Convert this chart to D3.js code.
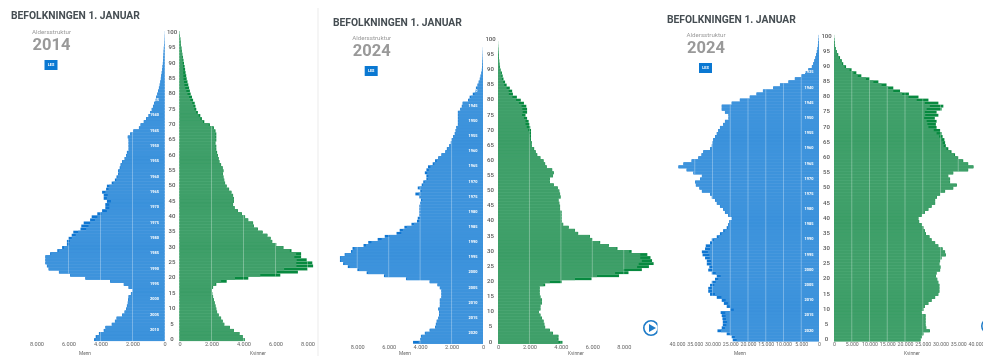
<!DOCTYPE html>
<html><head><meta charset="utf-8">
<script src="https://cdn.jsdelivr.net/npm/d3@7"></script>
<style>html,body{margin:0;background:#fff;overflow:hidden}svg{display:block;filter:blur(.4px);font-family:Roboto,sans-serif}</style>
</head><body><svg id="c" width="983" height="356"></svg>
<script>
const titleText = "BEFOLKNINGEN 1. JANUAR", subtitle = "Aldersstruktur", button = "LES", maleLabel = "Menn", femaleLabel = "Kvinner";
const ageTicks = [0,5,10,15,20,25,30,35,40,45,50,55,60,65,70,75,80,85,90,95,100];
const ticksA = [0,2000,4000,6000,8000];
const ticksB = [0,5000,10000,15000,20000,25000,30000,35000,40000];
const yearsA = [2010,2005,2000,1995,1990,1985,1980,1975,1970,1965,1960,1955,1950,1945,1940,1935];
const yearsB = [2020,2015,2010,2005,2000,1995,1990,1985,1980,1975,1970,1965,1960,1955,1950,1945,1940];
const yearsC = [2020,2015,2010,2005,2000,1995,1990,1985,1980,1975,1970,1965,1960,1955,1950,1945,1940,1935];

const male1 = [4400,4300,4100,3800,3700,3300,3100,3000,2650,2500,2400,2350,2300,2280,2250,2100,2000,2250,2550,3400,4950,5900,6600,7250,7350,7450,7450,7450,7150,6700,6400,6100,6100,6000,5800,5700,5250,5200,5050,4650,4550,4200,3900,3700,3700,3600,3800,3800,3900,3650,3600,3300,3100,3000,2900,2900,2800,2750,2650,2500,2400,2350,2250,2250,2250,2250,2300,2150,1950,1600,1500,1300,1150,1000,900,800,720,650,580,520,450,400,350,300,260,230,200,170,140,120,100,80,70,60,50,40,30,20,15,10,5];
const maleX1 = [80,60,50,40,40,30,20,20,20,20,20,20,20,20,20,20,20,20,20,20,20,20,20,30,30,30,30,30,60,80,120,150,180,200,250,300,350,450,400,300,350,250,300,250,250,250,200,250,200,150,150,100,80,60,60,50,40,40,40,30,30,30,30,20,20,20,20,20,20,20,20,20,20,10,10,10,10,10,10,10,10,10,10,10,10,10,0,0,0,0,0,0,0,0,0,0,0,0,0,0,0];
const female1 = [4080,3950,3750,3400,3150,2800,2700,2600,2450,2350,2300,2250,2200,2150,2100,2050,2030,2100,2300,2950,4300,6300,7400,8000,8350,8300,7950,7600,7600,7000,6500,6050,5800,5700,5500,5200,4900,4650,4600,4300,4100,3900,3650,3450,3350,3400,3400,3350,3250,3100,2950,2850,2800,2750,2720,2750,2700,2600,2500,2450,2400,2350,2300,2300,2250,2300,2300,2300,2250,2150,1900,1550,1400,1300,1150,1050,1000,950,850,780,700,650,600,550,500,450,420,380,350,320,280,250,220,180,150,120,90,70,50,30,15];
const femaleX1 = [10,10,10,10,10,10,10,10,10,10,10,10,10,10,10,10,10,30,60,350,830,1250,1310,1460,1040,1000,625,420,310,100,40,30,30,30,30,30,20,20,20,20,20,20,20,20,20,20,20,20,20,20,20,20,20,20,20,20,20,20,20,20,30,40,40,40,40,40,50,50,50,50,70,80,90,100,110,120,130,150,170,180,200,220,240,240,220,200,180,150,120,100,80,60,40,20,10,5,0,0,0,0,0];

const male2 = [4450,4000,3950,3700,3400,3050,3000,2950,2850,2800,2800,2850,2750,2750,2750,2650,2650,2650,2750,2900,3400,4900,6300,7400,8000,8600,8900,9100,9100,8800,8400,8300,7600,7300,6700,6250,5500,5300,5000,4550,4200,4150,4050,4050,4050,4050,4000,3950,4050,4300,4000,4150,3900,3800,3600,3600,3700,3600,3500,3200,3050,2850,2650,2400,2300,2150,2050,2000,1900,1800,1750,1700,1600,1600,1600,1600,1600,1450,1350,1300,950,850,650,500,450,350,270,200,150,100,70,50,40,30,20,15,10,5,0,0,0];
const maleX2 = [350,60,40,40,40,30,30,30,30,30,20,20,20,20,20,20,20,20,20,20,30,40,60,80,100,100,80,50,40,40,80,120,150,200,250,300,300,200,150,150,150,150,80,80,60,60,60,80,100,200,100,100,80,80,80,120,150,150,150,100,100,50,40,30,30,30,30,30,30,30,30,30,30,30,30,30,30,30,30,30,60,80,100,60,40,20,0,0,0,0,0,0,0,0,0,0,0,0,0,0,0];
const female2 = [4100,3850,3850,3500,3300,3000,2950,2900,2800,2700,2600,2700,2700,2800,2800,2700,2650,2650,2650,3000,4050,5950,7700,8300,9150,9600,9900,9800,9700,9500,8500,7600,7050,6500,6000,5850,5100,4900,4500,4150,4050,4050,4050,4050,3950,3950,3900,3850,4000,3950,3900,3800,3550,3300,3300,3500,3550,3450,3100,3000,2900,2700,2500,2400,2300,2150,2150,2100,2100,2100,2100,2050,2000,1950,1850,1750,1850,1850,1800,1650,1450,1200,950,900,750,550,450,350,300,250,170,130,100,80,60,50,30,20,10,5,0];
const femaleX2 = [250,60,40,30,20,20,20,20,20,10,10,10,10,10,10,10,10,10,10,100,750,1050,1400,850,1170,750,950,650,650,450,150,60,50,40,40,30,30,20,20,20,20,20,20,20,10,10,10,10,10,10,10,10,10,10,10,10,10,20,20,20,20,20,30,30,30,40,50,50,80,120,180,220,250,200,200,220,280,300,300,320,300,280,260,220,200,150,120,100,80,60,50,30,20,10,10,0,0,0,0,0,0];

const male3 = [24300,24600,26000,28600,27400,27100,27100,27200,27400,27700,25000,26000,26800,27400,28800,30700,31200,31200,30700,30200,29300,28800,30200,31200,30900,31600,31600,32100,32800,33000,32100,31900,30700,30200,28800,27900,27000,26000,25600,25300,24600,25600,26500,27000,27900,28800,29300,30200,30700,33000,33700,34700,34900,33500,33000,35400,37300,39600,38200,35900,34000,33100,32600,30700,30200,30000,29800,29300,28800,28400,27900,27000,26500,25500,25500,26500,27400,27400,24600,22300,19500,17600,15800,12900,11000,8600,6800,4900,3900,3000,2000,1600,1300,1000,800,600,400,300,200,100,50];
const maleX3 = [1100,900,1000,1000,900,1000,1200,1000,1100,1300,1000,1000,1200,1100,1300,1400,1100,1000,1200,1100,900,1100,1100,1200,1000,1100,1200,1300,1900,1700,1400,1200,600,600,500,400,400,300,200,150,150,120,100,100,80,80,80,60,60,60,60,60,60,50,50,50,50,50,50,50,40,40,40,40,40,40,40,30,30,30,30,30,30,30,30,30,30,30,30,30,20,20,20,20,20,20,10,10,10,10,0,0,0,0,0,0,0,0,0,0,0];
const female3 = [24400,24700,25200,27000,26000,25800,25800,25800,25800,24700,25200,25600,26600,27500,28500,29400,29700,29700,29700,29400,29100,28700,28900,29900,30100,29700,29900,30300,31500,31300,30600,29400,28500,27500,26900,25900,25600,25200,24700,24000,23800,24700,25600,26600,27500,28500,28500,29000,29900,31300,33600,34600,32700,32700,32200,33600,37800,39300,37800,36400,35000,34100,33100,32200,31500,31300,31100,30600,30300,29900,28900,28700,28900,28400,29400,28900,30300,30800,29400,26600,23800,21100,18600,16700,14800,12500,10000,7700,6300,5000,3400,2600,2200,1700,1200,800,500,300,200,100,30];
const femaleX3 = [80,80,80,80,80,80,80,80,80,80,80,80,80,80,80,80,80,80,80,80,80,80,80,80,80,80,80,80,80,80,80,80,80,80,80,80,80,80,80,80,80,80,80,80,80,80,80,80,80,100,100,100,100,100,100,100,100,100,100,150,200,250,300,500,600,700,800,1000,1400,1800,2300,2400,2800,3000,3700,3300,4200,3800,3800,3300,2800,1900,1900,1400,1400,1400,1000,1000,800,600,400,350,300,250,200,100,50,30,0,0,0];

const panels = [
 {x:164.5,xr:179.5,s:16,y0:339,step:3.07,ticks:ticksA,year:"2014",male:male1,maleX:maleX1,female:female1,femaleX:femaleX1,years:yearsA,tx:11,ty:19,cx:51.5,sy:32,by:60,ax:345.7,tt:353.5,lab:[85,258]},
 {x:483,xr:498,s:15.72,y0:341.7,step:3.027,ticks:ticksA,year:"2024",male:male2,maleX:maleX2,female:female2,femaleX:femaleX2,years:yearsB,tx:333,ty:26,cx:371.7,sy:38.5,by:66,ax:348.7,tt:353.5,lab:[405,576]},
 {x:819,xr:834,s:3.55,y0:339.3,step:3.036,ticks:ticksB,year:"2024",male:male3,maleX:maleX3,female:female3,femaleX:femaleX3,years:yearsC,tx:667,ty:23,cx:706,sy:35.5,by:63,ax:346,tt:353.5,lab:[740,912]}
];
const blue="#3d93dc",dblue="#0f76d2",green="#3f9f69",dgreen="#07893f",fmt=v=>d3.format(",")(v).replace(/,/g,".");
const svg=d3.select("#c");
svg.append("rect").attr("x",317).attr("y",8).attr("width",2).attr("height",348).attr("fill","#f5f5f5");

panels.forEach(p=>{
  const g=svg.append("g"), ages=d3.range(101);
  const y=d3.scaleLinear().domain([0,100]).range([p.y0,p.y0-100*p.step]);
  const xL=d3.scaleLinear().domain([0,8000]).range([p.x,p.x-8000*p.s/1000]);
  const xR=d3.scaleLinear().domain([0,8000]).range([p.xr,p.xr+8000*p.s/1000]);
  const h=p.step-.18, top=a=>y(a)-h/2+.6;
  const bars=(scale,tot,ext,c,dc,left)=>{
    g.selectAll(null).data(ages).join("rect").attr("fill",dc)
      .attr("x",a=>left?scale(tot[a]):scale(0)).attr("width",a=>Math.abs(scale(tot[a])-scale(0))).attr("y",top).attr("height",h);
    g.selectAll(null).data(ages).join("rect").attr("fill",c)
      .attr("x",a=>left?scale(tot[a]-ext[a]):scale(0)).attr("width",a=>Math.abs(scale(tot[a]-ext[a])-scale(0))).attr("y",top).attr("height",h);
  };
  bars(xL,p.male,p.maleX,blue,dblue,true);
  bars(xR,p.female,p.femaleX,green,dgreen,false);
  // gridlines over the bars, only as far up as the bars reach
  [[xL,p.male],[xR,p.female]].forEach(([sc,vals])=>{
    const reach=v=>{let a=0;while(a<100&&vals[a+1]>=v)a++;return a;};
    g.selectAll(null).data(p.ticks.slice(1).filter(v=>vals[0]>=v||d3.max(vals)>=v)).join("line").attr("x1",sc).attr("x2",sc)
      .attr("y1",v=>y(d3.max(ages.filter(a=>vals[a]>=v)))-1).attr("y2",v=>y(d3.min(ages.filter(a=>vals[a]>=v)))+2)
      .attr("stroke","#fff").attr("stroke-opacity",.3).attr("stroke-width",1);
  });
  // axes
  [xL,xR].forEach(sc=>{
    const ax=g.append("g").attr("transform",`translate(0,${p.ax-6})`)
      .call(d3.axisBottom(sc).tickValues(p.ticks).tickFormat(fmt).tickSize(0).tickPadding(2));
    ax.select(".domain").remove();
    ax.selectAll("text").attr("font-size",p.s<5?5.2:5.6).attr("fill","#666").attr("font-family","Roboto,sans-serif");
  });
  const t=(x,yy,s,size,fill,wt,anchor)=>g.append("text").attr("x",x).attr("y",yy).text(s).attr("font-size",size).attr("fill",fill)
      .attr("font-weight",wt||400).attr("text-anchor",anchor||"middle").attr("dominant-baseline","middle");
  ageTicks.forEach(a=>t((p.x+p.xr)/2,y(a)+.3,a,6,"#555",500));
  p.years.forEach((yr,i)=>t(p.x-10,y(3+5*i)+.3,yr,3.9,"#fff",700));
  g.append("text").attr("x",p.tx).attr("y",p.ty).text(titleText).attr("font-size",10.3).attr("font-weight",700).attr("fill","#454d52");
  t(p.cx,p.sy,subtitle,6.2,"#9a9a9a");
  t(p.cx,p.sy+13.3,p.year,16.5,"#999",700);
  g.append("rect").attr("x",p.cx-7).attr("y",p.by).attr("width",13).attr("height",10).attr("fill","#0a78d2");
  t(p.cx-.5,p.by+5,button,3.8,"#fff",700);
  t(p.lab[0],p.tt,maleLabel,4.8,"#666");
  t(p.lab[1],p.tt,femaleLabel,4.8,"#666");
});
// play buttons
const defs=svg.append("defs");
defs.append("clipPath").attr("id","pc").append("rect").attr("x",0).attr("y",0).attr("width",657.5).attr("height",356);
const pl=svg.append("g").attr("clip-path","url(#pc)");
pl.append("circle").attr("cx",651).attr("cy",328).attr("r",7.2).attr("fill","#fff").attr("stroke","#1f7cc8").attr("stroke-width",1.6);
pl.append("path").attr("d",d3.line()([[649,324],[649,332],[656,328]])).attr("fill","#1f7cc8");
svg.append("circle").attr("cx",989).attr("cy",326).attr("r",7.2).attr("fill","#fff").attr("stroke","#1f7cc8").attr("stroke-width",1.6);
</script></body></html>
